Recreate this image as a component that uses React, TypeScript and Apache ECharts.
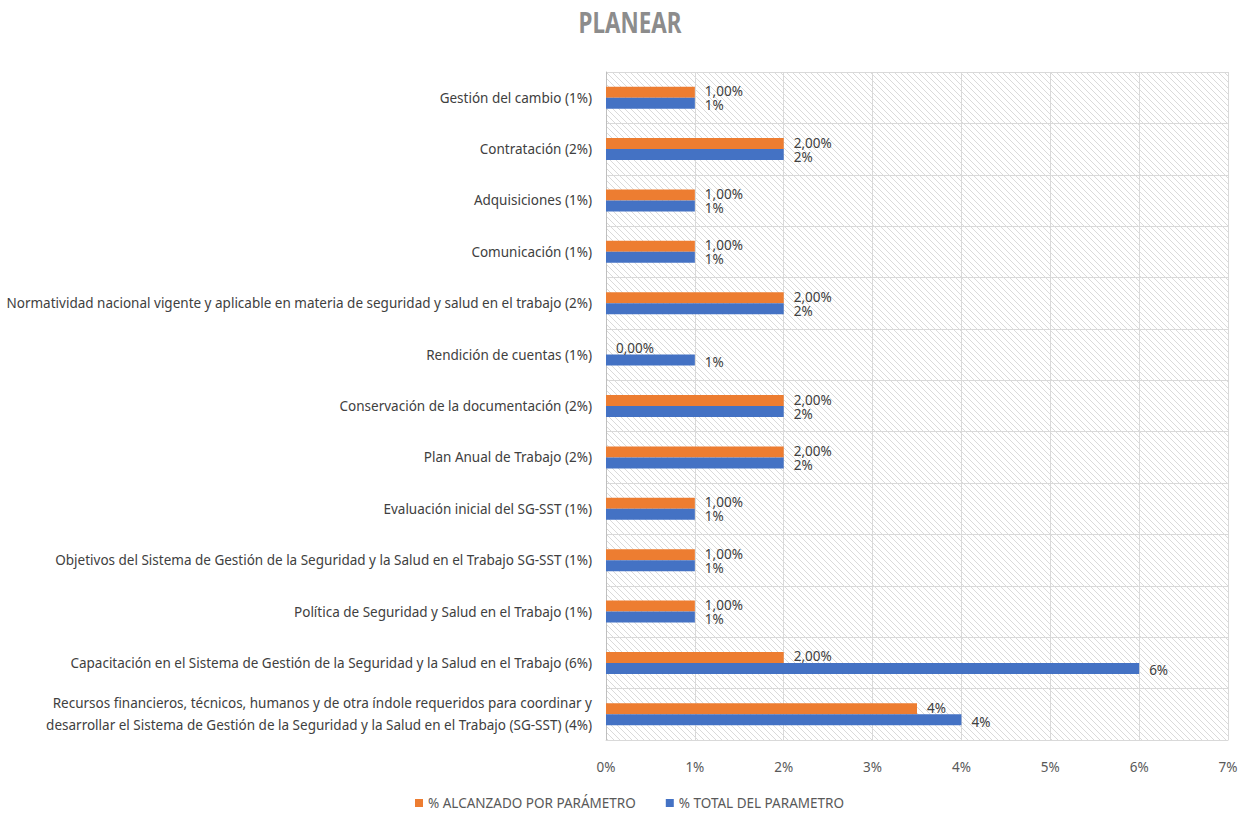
import React, { useEffect, useRef } from "react";
import * as echarts from "echarts";

const categories = [
  "Gestión del cambio (1%)",
  "Contratación (2%)",
  "Adquisiciones (1%)",
  "Comunicación (1%)",
  "Normatividad nacional vigente y aplicable en materia de seguridad y salud en el trabajo (2%)",
  "Rendición de cuentas (1%)",
  "Conservación de la documentación (2%)",
  "Plan Anual de Trabajo (2%)",
  "Evaluación inicial del SG-SST (1%)",
  "Objetivos del Sistema de Gestión de la Seguridad y la Salud en el Trabajo SG-SST (1%)",
  "Política de Seguridad y Salud en el Trabajo (1%)",
  "Capacitación en el Sistema de Gestión de la Seguridad y la Salud en el Trabajo (6%)",
  "Recursos financieros, técnicos, humanos y de otra índole requeridos para coordinar y\ndesarrollar el Sistema de Gestión de la Seguridad y la Salud en el Trabajo (SG-SST) (4%)",
];

const alcanzado = [1, 2, 1, 1, 2, 0, 2, 2, 1, 1, 1, 2, 3.5];
const alcanzadoLabels = [
  "1,00%", "2,00%", "1,00%", "1,00%", "2,00%", "0,00%", "2,00%", "2,00%",
  "1,00%", "1,00%", "1,00%", "2,00%", "4%",
];
const total = [1, 2, 1, 1, 2, 1, 2, 2, 1, 1, 1, 6, 4];
const xTicks = [0, 1, 2, 3, 4, 5, 6, 7];

const FONT = "'Noto Sans', sans-serif";

function makeHatch(): HTMLCanvasElement {
  const c = document.createElement("canvas");
  const n = 6;
  c.width = n;
  c.height = n;
  const ctx = c.getContext("2d")!;
  ctx.fillStyle = "#ffffff";
  ctx.fillRect(0, 0, n, n);
  ctx.fillStyle = "#dadada";
  for (let i = 0; i < n; i++) ctx.fillRect(i, i, 1, 1);
  return c;
}

export default function App() {
  const ref = useRef<HTMLDivElement>(null);
  useEffect(() => {
    document.body.style.margin = "0";
    const chart = echarts.init(ref.current!, null, { renderer: "svg" });
    const hatch = makeHatch();
    chart.setOption({
      animation: false,
      backgroundColor: "#ffffff",
      textStyle: { fontFamily: FONT },
      graphic: [
        {
          type: "text",
          x: 630,
          y: 22,
          scaleX: 0.8,
          style: {
            text: "PLANEAR",
            fontFamily: FONT,
            fontSize: 28,
            fontWeight: "bold",
            fill: "#8c8c8c",
            textAlign: "center",
            textVerticalAlign: "middle",
          },
        },
      ],
      legend: {
        bottom: 4,
        left: 410,
        itemWidth: 8,
        itemHeight: 8,
        itemGap: 30,
        icon: "rect",
        textStyle: { fontFamily: FONT, fontSize: 13.5, color: "#595959" },
        data: ["% ALCANZADO POR PARÁMETRO", "% TOTAL DEL PARAMETRO"],
      },
      grid: {
        left: 606,
        right: 26,
        top: 72,
        bottom: 79,
        outerBoundsMode: "none",
        containLabel: false,
        show: true,
        borderWidth: 0,
        backgroundColor: { image: hatch, repeat: "repeat" },
      },
      xAxis: {
        type: "value",
        min: xTicks[0],
        max: xTicks[xTicks.length - 1],
        interval: 1,
        axisLine: { show: true, lineStyle: { color: "#d9d9d9" } },
        axisTick: { show: false },
        axisLabel: {
          formatter: "{value}%",
          color: "#595959",
          fontSize: 13.5,
          margin: 20,
          fontFamily: FONT,
        },
        splitLine: { show: true, lineStyle: { color: "#d9d9d9", width: 1 } },
      },
      yAxis: {
        type: "category",
        inverse: true,
        data: categories,
        axisLine: { show: true, lineStyle: { color: "#bfbfbf" } },
        axisTick: { show: false },
        axisLabel: {
          color: "#404040",
          fontSize: 13.5,
          margin: 14,
          lineHeight: 22,
          fontFamily: FONT,
        },
        splitLine: { show: true, lineStyle: { color: "#d9d9d9", width: 1 } },
      },
      series: [
        {
          name: "% ALCANZADO POR PARÁMETRO",
          type: "bar",
          data: alcanzado,
          barWidth: 11,
          barGap: "0%",
          itemStyle: { color: "#ED7D31" },
          label: {
            show: true,
            position: "right",
            distance: 10,
            offset: [0, -1],
            color: "#404040",
            fontSize: 13.5,
            fontFamily: FONT,
            formatter: (p: any) => alcanzadoLabels[p.dataIndex],
          },
        },
        {
          name: "% TOTAL DEL PARAMETRO",
          type: "bar",
          data: total,
          barWidth: 11,
          barGap: "0%",
          itemStyle: { color: "#4472C4" },
          label: {
            show: true,
            position: "right",
            distance: 10,
            offset: [0, 2],
            color: "#404040",
            fontSize: 13.5,
            fontFamily: FONT,
            formatter: (p: any) => `${p.value}%`,
          },
        },
      ],
    });
    return () => chart.dispose();
  }, []);
  return <div ref={ref} style={{ width: 1254, height: 819 }} />;
}
